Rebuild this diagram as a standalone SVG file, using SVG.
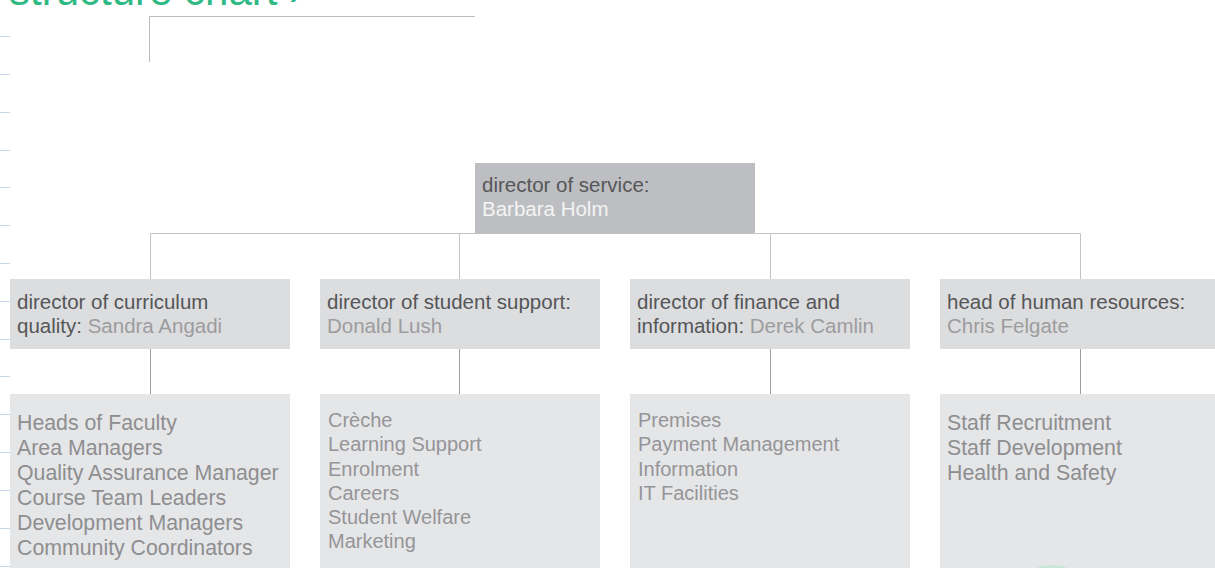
<svg xmlns="http://www.w3.org/2000/svg" width="1215" height="568" viewBox="0 0 1215 568">
  <style>
    text { font-family: "Liberation Sans", Arial, sans-serif; }
    .title { font-size: 42px; fill: #2fb985; }
    .tick { stroke: #c9d5ea; stroke-width: 1; }
    .frame { stroke: #bdbdbd; stroke-width: 1; fill: none; }
    .link-top { stroke: #c4c4c4; stroke-width: 1; fill: none; }
    .link-bottom { stroke: #9e9e9e; stroke-width: 1; fill: none; }
    .box-head { fill: #bdbec1; }
    .box-dir { fill: #dcdddf; }
    .box-list { fill: #e5e6e8; }
    .role { font-size: 20.5px; fill: #555658; }
    .name-light { fill: #f4f4f4; }
    .name { fill: #9c9c9e; }
    .list-l { font-size: 21.3px; fill: #8e8e90; }
    .list-s { font-size: 20px; fill: #959597; }
  </style>

  <!-- page heading, cropped at the top edge -->
  <text class="title" x="9" y="5">structure chart ›</text>

  <!-- margin ruler ticks -->
  <g id="ruler">
    <line class="tick" x1="0" y1="36.5" x2="10" y2="36.5"/>
    <line class="tick" x1="0" y1="74.5" x2="10" y2="74.5"/>
    <line class="tick" x1="0" y1="112.5" x2="10" y2="112.5"/>
    <line class="tick" x1="0" y1="150.5" x2="10" y2="150.5"/>
    <line class="tick" x1="0" y1="187.5" x2="10" y2="187.5"/>
    <line class="tick" x1="0" y1="225.5" x2="10" y2="225.5"/>
    <line class="tick" x1="0" y1="263.5" x2="10" y2="263.5"/>
    <line class="tick" x1="0" y1="301.5" x2="10" y2="301.5"/>
    <line class="tick" x1="0" y1="339.5" x2="10" y2="339.5"/>
    <line class="tick" x1="0" y1="376.5" x2="10" y2="376.5"/>
    <line class="tick" x1="0" y1="414.5" x2="10" y2="414.5"/>
    <line class="tick" x1="0" y1="452.5" x2="10" y2="452.5"/>
    <line class="tick" x1="0" y1="490.5" x2="10" y2="490.5"/>
    <line class="tick" x1="0" y1="528.5" x2="10" y2="528.5"/>
    <line class="tick" x1="0" y1="566.5" x2="10" y2="566.5"/>
  </g>

  <!-- corner bracket below the heading -->
  <path class="frame" d="M149.5,62 V16.5 H475"/>

  <!-- connectors -->
  <g id="connectors">
    <path class="link-top" d="M150.5,279 V233.5 H1080.5 V279 M459.5,233.5 V279 M770.5,233.5 V279"/>
    <path class="link-bottom" d="M150.5,349 V394 M459.5,349 V394 M770.5,349 V394 M1080.5,349 V394"/>
  </g>

  <!-- top level -->
  <g id="director-of-service">
    <rect class="box-head" x="475" y="163" width="280" height="70"/>
    <text class="role" x="482" y="192">director of service:</text>
    <text class="role name-light" x="482" y="216">Barbara Holm</text>
  </g>

  <!-- second level -->
  <g id="director-curriculum">
    <rect class="box-dir" x="10" y="279" width="280" height="70"/>
    <text class="role" x="17" y="309">director of curriculum</text>
    <text class="role" x="17" y="333">quality: <tspan class="name">Sandra Angadi</tspan></text>
  </g>
  <g id="director-student-support">
    <rect class="box-dir" x="320" y="279" width="280" height="70"/>
    <text class="role" x="327" y="309">director of student support:</text>
    <text class="role name" x="327" y="333">Donald Lush</text>
  </g>
  <g id="director-finance">
    <rect class="box-dir" x="630" y="279" width="280" height="70"/>
    <text class="role" x="637" y="309">director of finance and</text>
    <text class="role" x="637" y="333">information: <tspan class="name">Derek Camlin</tspan></text>
  </g>
  <g id="head-human-resources">
    <rect class="box-dir" x="940" y="279" width="280" height="70"/>
    <text class="role" x="947" y="309">head of human resources:</text>
    <text class="role name" x="947" y="333">Chris Felgate</text>
  </g>

  <!-- third level -->
  <g id="curriculum-teams">
    <rect class="box-list" x="10" y="394" width="280" height="174"/>
    <text class="list-l" x="17" y="430">Heads of Faculty</text>
    <text class="list-l" x="17" y="455">Area Managers</text>
    <text class="list-l" x="17" y="480">Quality Assurance Manager</text>
    <text class="list-l" x="17" y="505">Course Team Leaders</text>
    <text class="list-l" x="17" y="530">Development Managers</text>
    <text class="list-l" x="17" y="555">Community Coordinators</text>
  </g>
  <g id="student-support-teams">
    <rect class="box-list" x="320" y="394" width="280" height="174"/>
    <text class="list-s" x="328" y="427">Crèche</text>
    <text class="list-s" x="328" y="451">Learning Support</text>
    <text class="list-s" x="328" y="476">Enrolment</text>
    <text class="list-s" x="328" y="500">Careers</text>
    <text class="list-s" x="328" y="524">Student Welfare</text>
    <text class="list-s" x="328" y="548">Marketing</text>
  </g>
  <g id="finance-teams">
    <rect class="box-list" x="630" y="394" width="280" height="174"/>
    <text class="list-s" x="638" y="427">Premises</text>
    <text class="list-s" x="638" y="451">Payment Management</text>
    <text class="list-s" x="638" y="476">Information</text>
    <text class="list-s" x="638" y="500">IT Facilities</text>
  </g>
  <g id="hr-teams">
    <rect class="box-list" x="940" y="394" width="280" height="174"/>
    <text class="list-l" x="947" y="430">Staff Recruitment</text>
    <text class="list-l" x="947" y="455">Staff Development</text>
    <text class="list-l" x="947" y="480">Health and Safety</text>
  </g>

  <!-- decorative disc rising from the bottom edge -->
  <circle cx="1052" cy="612" r="47" fill="#c9e7d7"/>
</svg>
